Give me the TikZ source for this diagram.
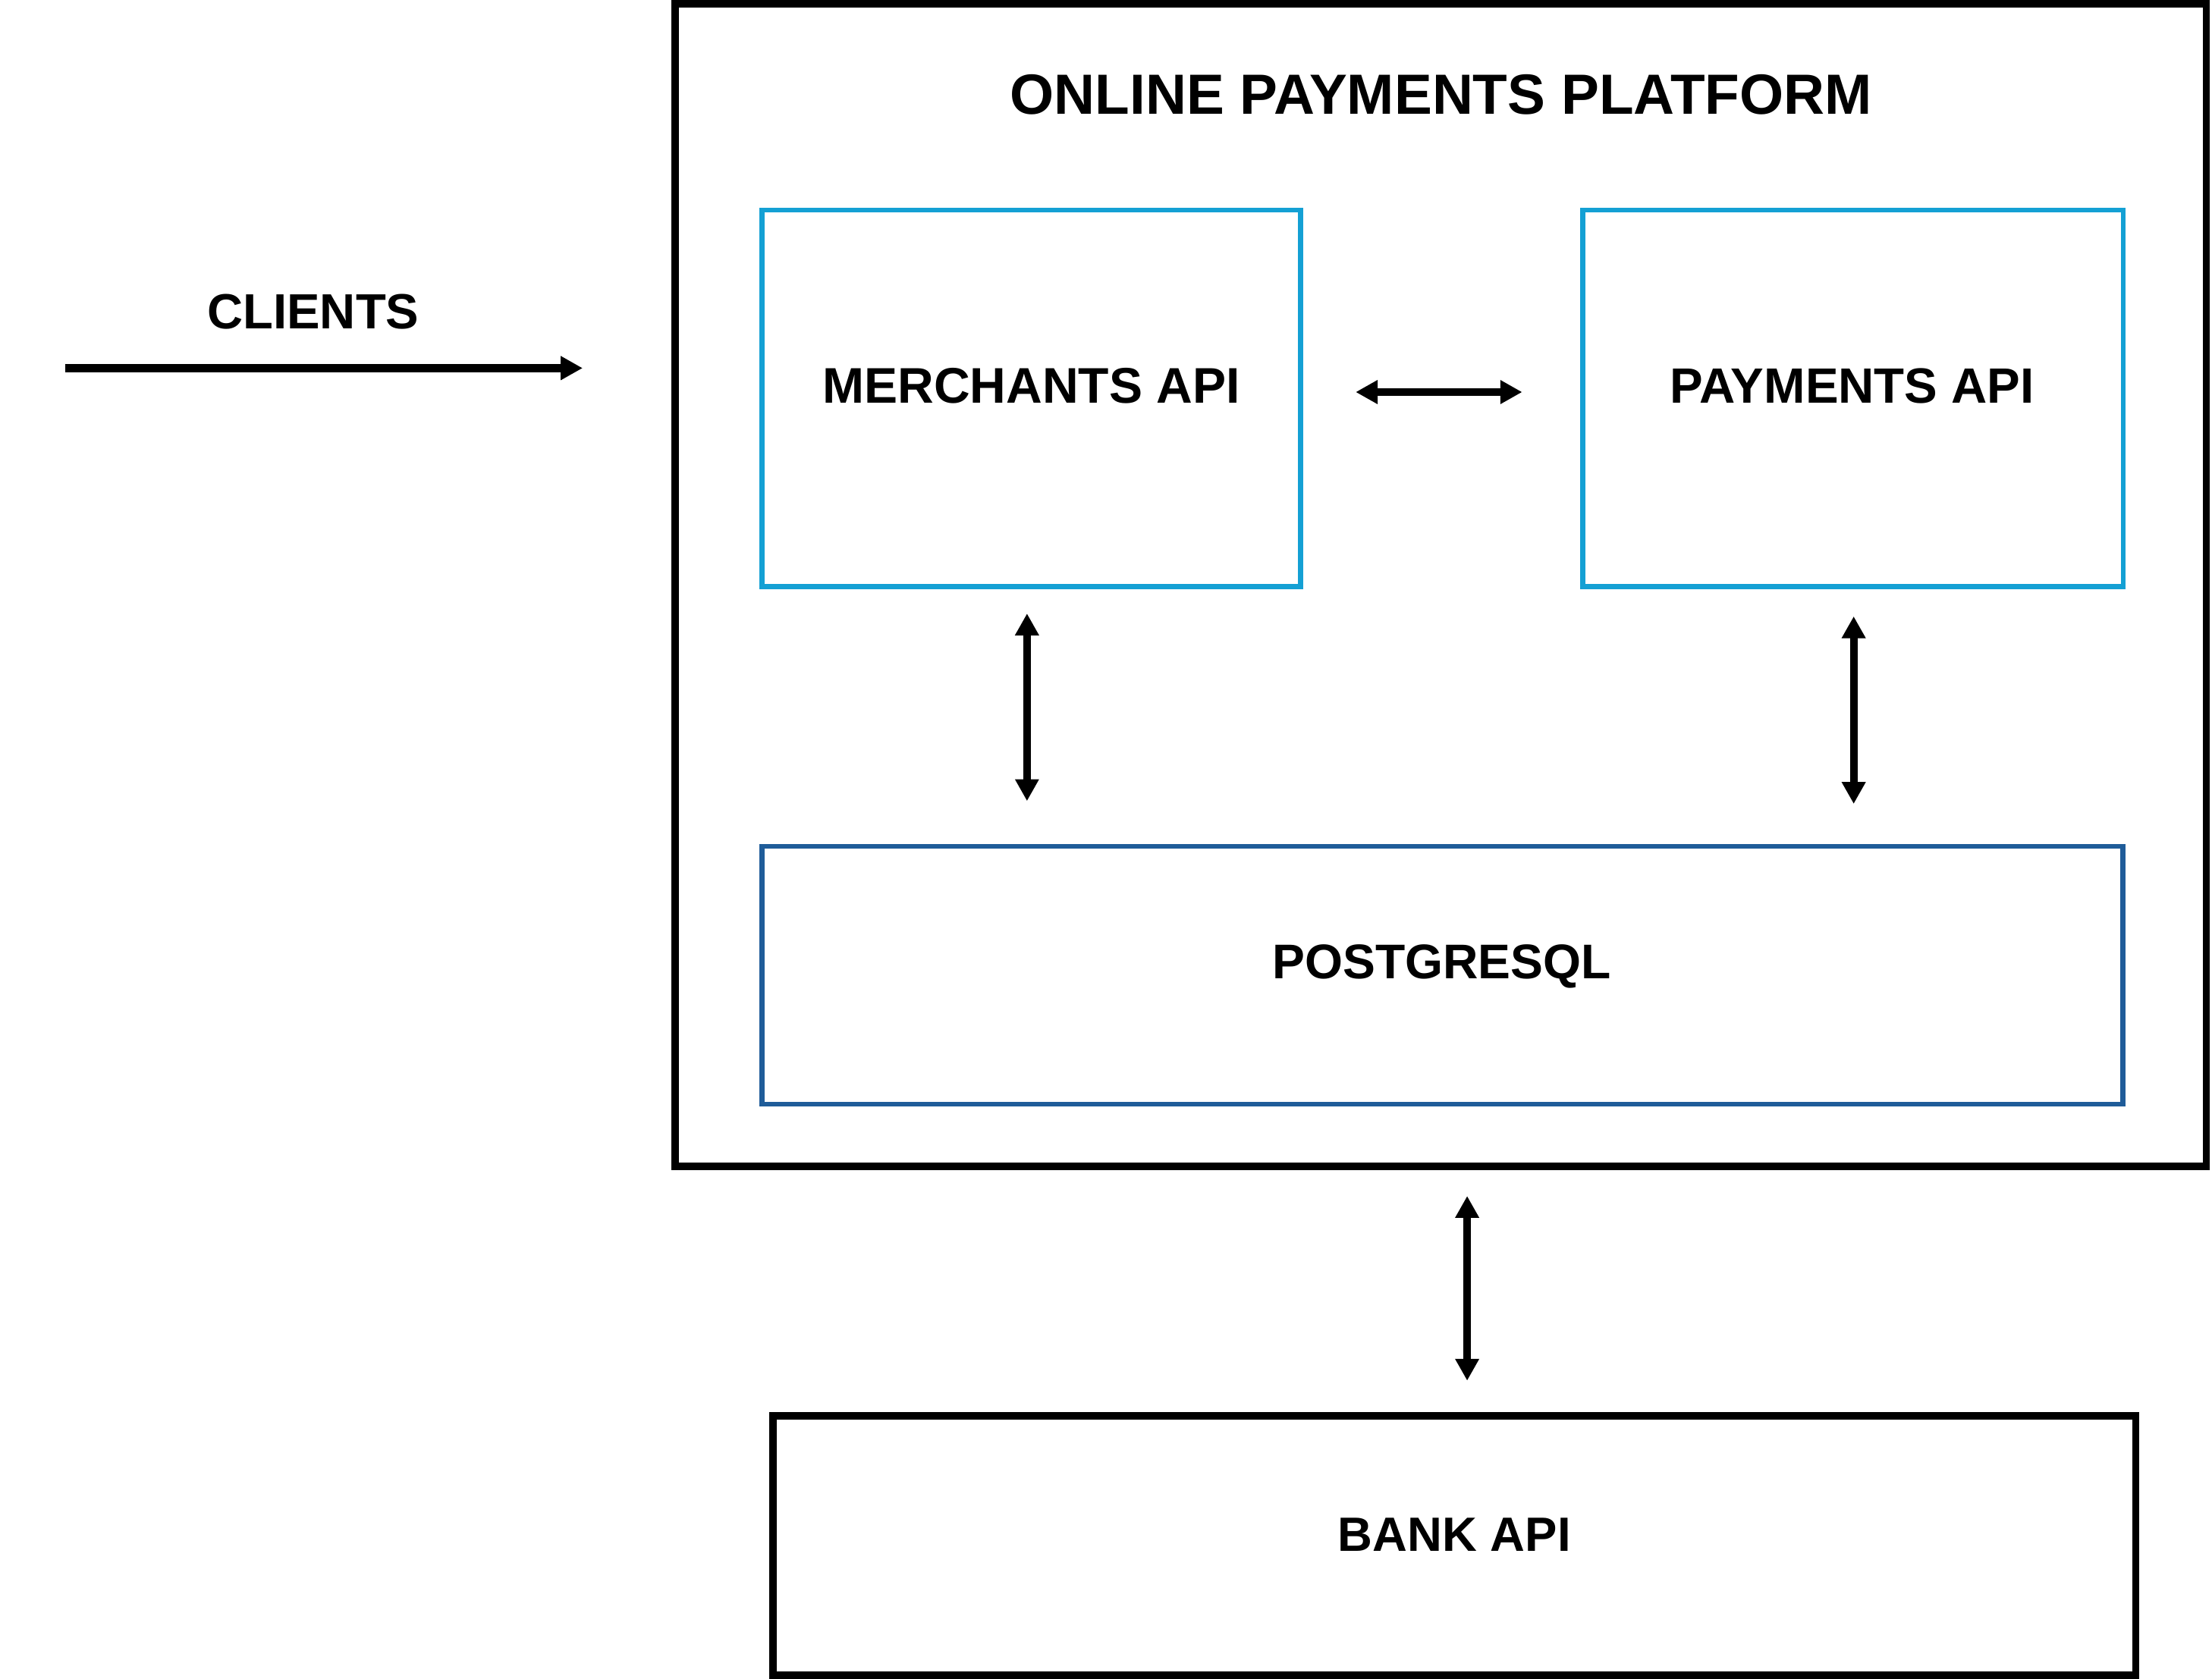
\documentclass[tikz,border=0pt]{standalone}
\usepackage{fontspec}
\setmainfont{Liberation Sans}
\usepackage{graphicx}
\usetikzlibrary{arrows.meta}
\definecolor{apiblue}{HTML}{14A0D4}
\definecolor{dbblue}{HTML}{1F5C99}
\newcommand{\fitlabel}[2]{\resizebox{#1}{!}{\bfseries #2}}
\begin{document}
\begin{tikzpicture}[x=0.02cm,y=-0.02cm,
  frame/.style={draw=black, line width=0.105cm, rectangle, inner sep=0pt, outer sep=0pt},
  apibox/.style={draw=apiblue, line width=0.07cm, rectangle, inner sep=0pt, outer sep=0pt},
  dbbox/.style={draw=dbblue, line width=0.07cm, rectangle, inner sep=0pt, outer sep=0pt},
  lbl/.style={inner sep=0pt, outer sep=0pt, anchor=base},
  tip/.tip={Triangle[length=0.31cm,width=0.32cm]},
  conn/.style={line width=0.11cm, -tip},
  biconn/.style={line width=0.11cm, tip-tip},
  ]
\useasboundingbox (0,0) rectangle (1568,1190);

% boxes
\node[frame, minimum width=21.708cm, minimum height=16.486cm] (platform) at (1021.3,414.85) {};
\node[apibox, minimum width=7.64cm, minimum height=5.34cm] (merch) at (731,282.5) {};
\node[apibox, minimum width=7.66cm, minimum height=5.34cm] (pay) at (1313.5,282.5) {};
\node[dbbox, minimum width=19.3cm, minimum height=3.66cm] (db) at (1022.5,691.5) {};
\node[frame, minimum width=19.32cm, minimum height=3.68cm] (bank) at (1031,1096) {};

% labels
\node[lbl] (title) at (1021.5,81) {\fitlabel{12.22cm}{ONLINE PAYMENTS PLATFORM}};
\node[lbl] (clients) at (222,233) {\fitlabel{3.0cm}{CLIENTS}};
\node[lbl] (merchlbl) at (731,286) {\fitlabel{5.92cm}{MERCHANTS API}};
\node[lbl] (paylbl) at (1313,286) {\fitlabel{5.16cm}{PAYMENTS API}};
\node[lbl] (dblbl) at (1022,694) {\fitlabel{4.8cm}{POSTGRESQL}};
\node[lbl] (banklbl) at (1031,1100) {\fitlabel{3.3cm}{BANK API}};

% connector end points
\coordinate (cliS) at (46,261);
\coordinate (cliE) at (413,261);
\coordinate (mpL) at (961,278);
\coordinate (mpR) at (1079,278);
\coordinate (mdT) at (728,435);
\coordinate (mdB) at (728,568);
\coordinate (pdT) at (1314,437);
\coordinate (pdB) at (1314,570);
\coordinate (bkT) at (1040,848);
\coordinate (bkB) at (1040,979);

% connectors
\draw[conn] (cliS) -- (cliE);
\draw[biconn] (mpL) -- (mpR);
\draw[biconn] (mdT) -- (mdB);
\draw[biconn] (pdT) -- (pdB);
\draw[biconn] (bkT) -- (bkB);
\end{tikzpicture}
\end{document}
